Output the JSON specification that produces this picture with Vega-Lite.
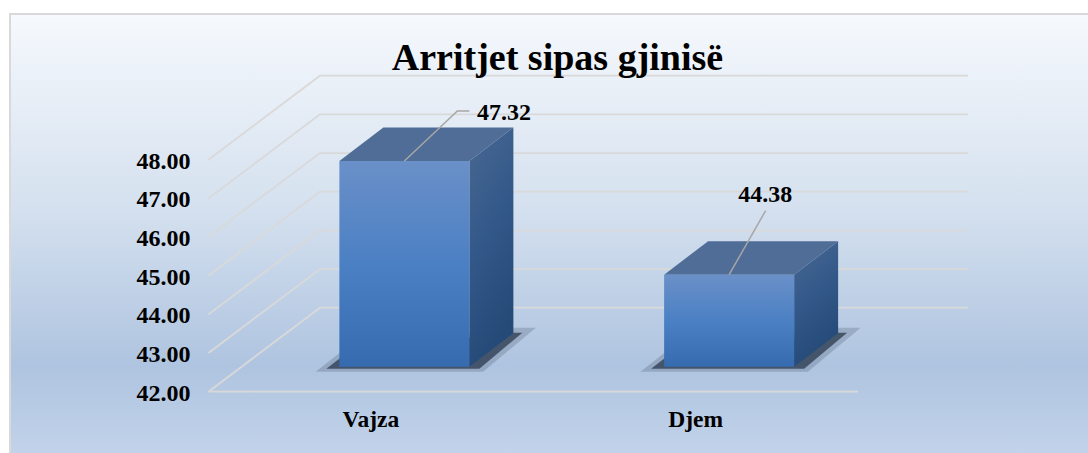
{
"$schema":"https://vega.github.io/schema/vega-lite/v6.json",
"width":1090,"height":445,
"autosize":"none",
"padding":{"left":10,"top":14,"right":0,"bottom":0},
"background":"white",
"view":{"stroke":"#d9d9d9","strokeWidth":2,"fill":{"gradient":"linear","x1":0,"y1":0,"x2":0,"y2":1,"stops":[{"offset":0,"color":"#f6f9fd"},{"offset":0.43,"color":"#d5e1ef"},{"offset":0.79,"color":"#afc4e0"},{"offset":0.99,"color":"#c2d3ea"}]}},
"title":{"text":"Arritjet sipas gjinisë","font":"Liberation Serif","fontSize":38,"fontWeight":"bold","color":"#000000","anchor":"middle","frame":"group","offset":-64,"dx":2.5},
"datasets":{
"bars":[{"gjinia":"Vajza","arritja":47.32},{"gjinia":"Djem","arritja":44.38}],
"ticks":[{"tick":42},{"tick":43},{"tick":44},{"tick":45},{"tick":46},{"tick":47},{"tick":48}],
"floor":[{"tick":42}]
},
"resolve":{"scale":{"shape":"independent"}},
"layer":[
{"data":{"name":"ticks"},
 "mark":{"type":"point","filled":false,"size":4,"stroke":"#d9d9d9","strokeWidth":1.8,"opacity":1,"shape":"M0,0L111.5,-84L759.5,-84","xOffset":-162.4},
 "encoding":{
  "x":{"datum":"Vajza","type":"nominal","scale":{"domain":["Vajza","Djem"],"range":[198.5,848],"paddingInner":0,"paddingOuter":0},"axis":{"title":null,"domain":false,"ticks":false,"labelAngle":0,"labelFont":"Liberation Serif","labelFontSize":23.5,"labelFontWeight":"bold","labelColor":"#000000","labelPadding":0,"offset":-52,"grid":false}},
  "y":{"field":"tick","type":"quantitative","scale":{"domain":[42,48],"range":[377.7,145.7],"zero":false,"nice":false},"axis":{"title":null,"domain":false,"ticks":false,"grid":false,"values":[42,43,44,45,46,47,48],"format":".2f","labelFont":"Liberation Serif","labelFontSize":24,"labelFontWeight":"bold","labelColor":"#000000","labelPadding":0,"offset":-180,"labelOffset":1.5}}
 }},
{"data":{"name":"floor"},
 "mark":{"type":"point","filled":false,"size":4,"stroke":"#d9d9d9","strokeWidth":1.8,"opacity":1,"shape":"M0,0L649.5,0","xOffset":-162.4},
 "encoding":{"x":{"datum":"Vajza","type":"nominal"},"y":{"field":"tick","type":"quantitative"}}},
{"data":{"name":"bars"},
 "mark":{"type":"point","filled":true,"size":4,"fill":"#36465c","stroke":"#36465c","strokeWidth":4,"opacity":0.22,"shape":"M-83,3L-60,-15L107,-37L126,-37L78,3Z","xOffset":33.5,"yOffset":-25},
 "encoding":{"x":{"field":"gjinia","type":"nominal"},"y":{"datum":42,"type":"quantitative"}}},
{"data":{"name":"bars"},
 "mark":{"type":"point","filled":true,"size":4,"fill":"#36465c","opacity":0.85,"shape":"M-78,2L-60,-12L103,-34L118,-34L75,2Z","xOffset":33.5,"yOffset":-25},
 "encoding":{"x":{"field":"gjinia","type":"nominal"},"y":{"datum":42,"type":"quantitative"}}},
{"data":{"name":"bars"},
 "mark":{"type":"point","filled":true,"size":4,"opacity":1,"xOffset":33.5,"yOffset":-25,"fill":{"gradient":"linear","x1":0,"y1":0,"x2":0.3,"y2":1,"stops":[{"offset":0,"color":"#4a6892"},{"offset":0.5,"color":"#33598a"},{"offset":1,"color":"#254a78"}]}},
 "encoding":{"x":{"field":"gjinia","type":"nominal"},"y":{"field":"arritja","type":"quantitative"},
  "shape":{"field":"gjinia","type":"nominal","legend":null,"scale":{"domain":["Vajza","Djem"],"range":["M65,0L109,-33.5L109,172.2L65,205.7Z","M65,0L109,-33.5L109,58.5L65,92Z"]}}}},
{"data":{"name":"bars"},
 "mark":{"type":"point","filled":true,"size":4,"opacity":1,"fill":"#4f6d96","shape":"M-65,0L-21,-33.5L109,-33.5L65,0Z","xOffset":33.5,"yOffset":-25},
 "encoding":{"x":{"field":"gjinia","type":"nominal"},"y":{"field":"arritja","type":"quantitative"}}},
{"data":{"name":"bars"},
 "mark":{"type":"bar","size":130,"xOffset":33.5,"x2Offset":33.5,"yOffset":-25,"y2Offset":-25,"fill":{"gradient":"linear","x1":0,"y1":0,"x2":0,"y2":1,"stops":[{"offset":0,"color":"#6a90c8"},{"offset":0.5,"color":"#4b80c4"},{"offset":1,"color":"#376bb0"}]}},
 "encoding":{"x":{"field":"gjinia","type":"nominal"},"y":{"field":"arritja","type":"quantitative"},"y2":{"datum":42}}},
{"data":{"name":"bars"},
 "mark":{"type":"point","filled":false,"size":4,"stroke":"#a6a6a6","strokeWidth":1.5,"opacity":1,"xOffset":33.5,"yOffset":-25},
 "encoding":{"x":{"field":"gjinia","type":"nominal"},"y":{"field":"arritja","type":"quantitative"},
  "shape":{"field":"gjinia","type":"nominal","legend":null,"scale":{"domain":["Vajza","Djem"],"range":["M0,0L53,-50L65,-50","M0,0L36.5,-64"]}}}},
{"data":{"name":"bars"},"transform":[{"filter":"datum.gjinia === 'Vajza'"}],
 "mark":{"type":"text","font":"Liberation Serif","fontSize":24,"fontWeight":"bold","color":"#000000","xOffset":33.5,"yOffset":-25,"dx":99.5,"dy":-48},
 "encoding":{"x":{"field":"gjinia","type":"nominal"},"y":{"field":"arritja","type":"quantitative"},"text":{"field":"arritja","type":"quantitative","format":".2f"}}},
{"data":{"name":"bars"},"transform":[{"filter":"datum.gjinia === 'Djem'"}],
 "mark":{"type":"text","font":"Liberation Serif","fontSize":24,"fontWeight":"bold","color":"#000000","xOffset":33.5,"yOffset":-25,"dx":36,"dy":-80},
 "encoding":{"x":{"field":"gjinia","type":"nominal"},"y":{"field":"arritja","type":"quantitative"},"text":{"field":"arritja","type":"quantitative","format":".2f"}}}
]
}
